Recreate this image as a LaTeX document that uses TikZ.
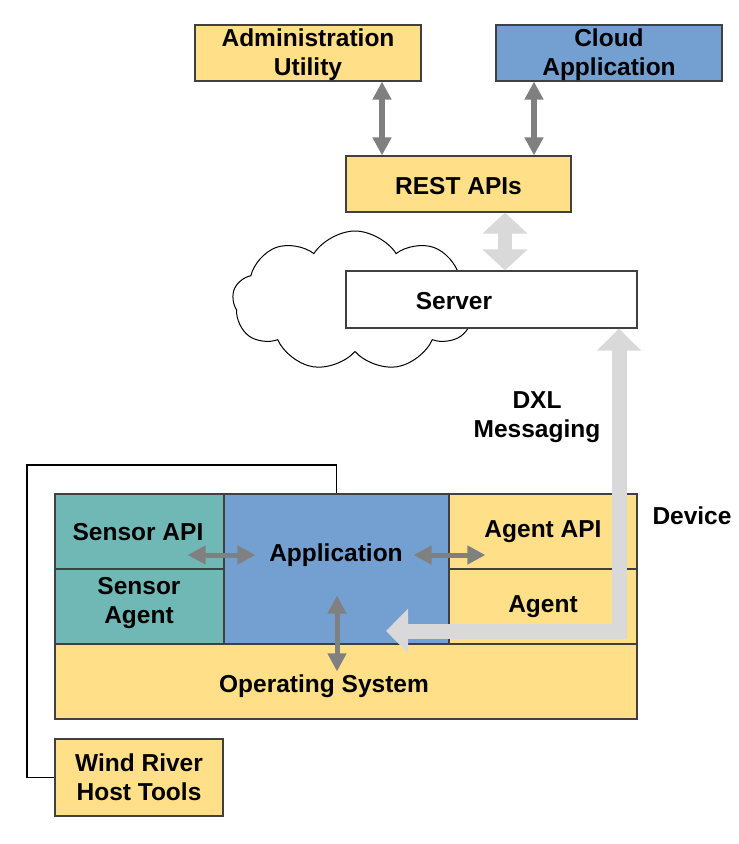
\documentclass[tikz,border=0pt]{standalone}
\usepackage{fontspec}
\setmainfont{Liberation Sans}
\usetikzlibrary{arrows.meta,shapes.symbols}
\definecolor{ylw}{HTML}{FFDF88}
\definecolor{blu}{HTML}{73A0D0}
\definecolor{tel}{HTML}{70B8B5}
\definecolor{brd}{HTML}{404040}
\definecolor{dgr}{HTML}{808080}
\definecolor{lgr}{HTML}{D9D9D9}
\tikzset{
  box/.style={draw=brd, line width=1.2pt, inner sep=0pt, align=center,
    font=\fontsize{24.5}{29.5}\selectfont\bfseries},
  txt/.style={inner sep=0pt, align=center, font=\fontsize{24.5}{29.5}\selectfont\bfseries},
  darr/.style={draw=dgr, line width=6pt,
    {Triangle[width=18pt,length=18pt]}-{Triangle[width=18pt,length=18pt]}},
  darrs/.style={draw=dgr, line width=5pt,
    {Triangle[width=18pt,length=18pt]}-{Triangle[width=18pt,length=18pt]}},
  larr/.style={draw=lgr, line width=15pt, line join=miter,
    {Triangle[width=43pt,length=22pt]}-{Triangle[width=43pt,length=22pt]}},
  conn/.style={draw=black, line width=1.8pt},
}
\begin{document}
\begin{tikzpicture}[x=1pt,y=-1pt]
\useasboundingbox (0,0) rectangle (739,844);
% top boxes
\node[box, fill=ylw, minimum width=226pt, minimum height=56pt] (admin) at (308,53) {};
\node[txt] (admintxt) at (308,54.5) {Administration\\Utility};
\node[box, fill=blu, minimum width=226pt, minimum height=56pt] (cloudapp) at (609,53) {};
\node[txt] (cloudapptxt) at (609,54.5) {Cloud\\Application};
\node[box, fill=ylw, minimum width=225pt, minimum height=56pt] (rest) at (458.5,184) {};
\node[txt] (resttxt) at (458.5,186) {REST APIs};
% cloud and server
\node[cloud, draw=black, line width=1pt, fill=white, cloud puffs=9, cloud puff arc=115, aspect=1.75,
  minimum width=245pt, minimum height=140pt, inner sep=0pt] (cld) at (355,301) {};
\node[box, fill=white, minimum width=291pt, minimum height=57pt] (server) at (491.5,299.5) {};
\node[txt] (servertxt) at (454,301) {Server};
% arrows top
\draw[darr] ([xshift=74pt]admin.south) -- ([xshift=74pt]admin.south |- rest.north);
\draw[darr] ([xshift=-75pt]cloudapp.south) -- ([xshift=-75pt]cloudapp.south |- rest.north);
\draw[draw=lgr, line width=14pt, {Triangle[width=44pt,length=21pt]}-{Triangle[width=44pt,length=21pt]}]
  ([xshift=46.5pt]rest.south) -- ([xshift=46.5pt]rest.south |- server.north);
% labels
\node[txt] (dxl) at (537,417) {DXL\\Messaging};
\node[txt] (device) at (692,516) {Device};
% device
\node[box, fill=tel, minimum width=169pt, minimum height=75pt] (sapi) at (139.5,531.5) {};
\node[txt] (sapitxt) at (138,532) {Sensor API};
\node[box, fill=tel, minimum width=169pt, minimum height=75pt] (sagent) at (139.5,606.5) {};
\node[txt] (sagenttxt) at (139,603) {Sensor\\Agent};
\node[box, fill=blu, minimum width=225pt, minimum height=150pt] (app) at (336.5,569) {};
\node[txt] (apptxt) at (336,555) {Application};
\node[box, fill=ylw, minimum width=188pt, minimum height=75pt] (aapi) at (543,531.5) {};
\node[txt] (aapitxt) at (543,532) {Agent API};
\node[box, fill=ylw, minimum width=188pt, minimum height=75pt] (agent) at (543,606.5) {};
\node[txt] (agenttxt) at (543,607) {Agent};
\node[box, fill=ylw, minimum width=582pt, minimum height=75pt] (os) at (346,681.5) {};
\node[txt] (ostxt) at (324,686) {Operating System};
\node[box, fill=ylw, minimum width=168pt, minimum height=77pt] (wr) at (139,777.5) {};
\node[txt] (wrtxt) at (139,777) {Wind River\\Host Tools};
% host tools connector
\coordinate (tl) at (27,465);
\draw[conn] (wr.west) -| (tl) -| (app.north);
% DXL arrow
\coordinate (dxlend) at (386,631);
\draw[larr] ([xshift=127.5pt]server.south) |- (dxlend);
% inner arrows
\draw[darrs] ([xshift=-37pt,yshift=-23.5pt]sapi.east) -- ([xshift=32pt,yshift=14pt]app.west);
\draw[darrs] ([xshift=-36pt,yshift=14pt]app.east) -- ([xshift=37pt,yshift=-23.5pt]aapi.west);
\draw[darrs] ([xshift=0.5pt,yshift=49pt]app.south) -- ([xshift=-9pt,yshift=-28pt]os.north);
\end{tikzpicture}
\end{document}
